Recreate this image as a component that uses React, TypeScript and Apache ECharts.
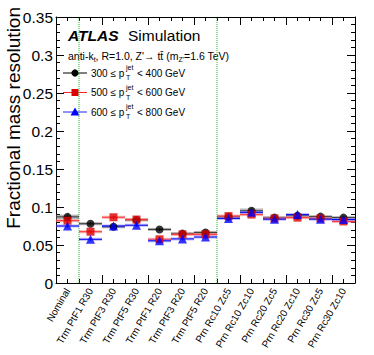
import React, { useEffect, useRef } from "react";
import * as echarts from "echarts";

const categories = [
  "Nominal",
  "Trm PtF1 R30",
  "Trm PtF3 R30",
  "Trm PtF5 R30",
  "Trm PtF1 R20",
  "Trm PtF3 R20",
  "Trm PtF5 R20",
  "Prn Rc10 Zc5",
  "Prn Rc10 Zc10",
  "Prn Rc20 Zc5",
  "Prn Rc20 Zc10",
  "Prn Rc30 Zc5",
  "Prn Rc30 Zc10",
];

const res300to400 = [0.087, 0.078, 0.074, 0.083, 0.0705, 0.065, 0.0665, 0.087, 0.095, 0.086, 0.0886, 0.0873, 0.086];
const res500to600 = [0.082, 0.0675, 0.0865, 0.0835, 0.0575, 0.064, 0.064, 0.088, 0.090, 0.085, 0.086, 0.085, 0.081];
const res600to800 = [0.075, 0.0575, 0.075, 0.076, 0.0555, 0.058, 0.0605, 0.085, 0.093, 0.084, 0.0900, 0.084, 0.0835];

const err300to400 = [0.003, 0.002, 0.002, 0.002, 0.002, 0.002, 0.002, 0.002, 0.003, 0.002, 0.002, 0.002, 0.002];
const err500to600 = [0.002, 0.002, 0.002, 0.002, 0.002, 0.002, 0.002, 0.002, 0.002, 0.002, 0.002, 0.002, 0.002];
const err600to800 = [0.002, 0.002, 0.002, 0.002, 0.002, 0.002, 0.002, 0.002, 0.002, 0.002, 0.002, 0.002, 0.002];

const yTicks = [0, 0.05, 0.1, 0.15, 0.2, 0.25, 0.3, 0.35];
const separators = [1, 7];

const legendRows = [
  { lo: "300", hi: "400", color: "#000000", line: "#000000", symbol: "circle" },
  { lo: "500", hi: "600", color: "#dd0000", line: "#ff2222", symbol: "rect" },
  { lo: "600", hi: "800", color: "#0000ff", line: "#2222ff", symbol: "triangle" },
];

const FONT = "Liberation Sans, Arial, Helvetica, sans-serif";

function bandSeries(values: number[], errs: number[], lineColor: string, bandColor: string) {
  return {
    type: "custom",
    xAxisIndex: 0,
    yAxisIndex: 0,
    data: values.map((v, i) => [i, v, errs[i]]),
    renderItem: (params: any, api: any) => {
      const i = api.value(0);
      const y = api.value(1);
      const e = api.value(2);
      const a = api.coord([i, y + e]);
      const b = api.coord([i + 1, y - e]);
      const l = api.coord([i, y]);
      const r = api.coord([i + 1, y]);
      const c1 = api.coord([i + 0.5, y + e]);
      const c2 = api.coord([i + 0.5, y - e]);
      return {
        type: "group",
        children: [
          {
            type: "rect",
            shape: { x: a[0], y: a[1], width: b[0] - a[0], height: b[1] - a[1] },
            style: { fill: bandColor },
          },
          {
            type: "line",
            shape: { x1: l[0], y1: l[1], x2: r[0], y2: r[1] },
            style: { stroke: lineColor, lineWidth: 1 },
          },
          {
            type: "line",
            shape: { x1: c1[0], y1: c1[1], x2: c2[0], y2: c2[1] },
            style: { stroke: lineColor, lineWidth: 1 },
          },
        ],
      };
    },
    z: 3,
  };
}

function markerSeries(values: number[], symbol: string, color: string, size: number) {
  return {
    type: "scatter",
    xAxisIndex: 0,
    yAxisIndex: 0,
    symbol,
    symbolSize: size,
    itemStyle: { color },
    data: values.map((v, i) => [i + 0.5, v]),
    z: 4,
  };
}

export default function App() {
  const ref = useRef<HTMLDivElement>(null);
  useEffect(() => {
    if (!ref.current) return;
    const chart = echarts.init(ref.current, undefined, { renderer: "svg" });

    const valueAxisCommon = {
      type: "value",
      min: 0,
      max: 13,
      interval: 2,
      axisLine: { show: true, onZero: false, lineStyle: { color: "#000", width: 1 } },
      axisTick: { show: true, inside: true, length: 8, lineStyle: { color: "#000" } },
      minorTick: { show: true, splitNumber: 4, length: 4, lineStyle: { color: "#000" } },
      axisLabel: { show: false },
      splitLine: { show: false },
    };
    const yAxisCommon = {
      type: "value",
      min: 0,
      max: 0.35,
      interval: 0.05,
      axisLine: { show: true, onZero: false, lineStyle: { color: "#000", width: 1 } },
      axisTick: { show: true, inside: true, length: 8, lineStyle: { color: "#000" } },
      minorTick: { show: true, splitNumber: 5, length: 4, lineStyle: { color: "#000" } },
      splitLine: { show: false },
    };

    const legendGraphics: any[] = [];
    legendRows.forEach((row, k) => {
      const cy = 73 + k * 19.5;
      legendGraphics.push({
        type: "line",
        shape: { x1: 63, y1: cy, x2: 87, y2: cy },
        style: { stroke: row.line, lineWidth: 1 },
      });
      if (row.symbol === "circle") {
        legendGraphics.push({ type: "circle", shape: { cx: 75, cy, r: 3.6 }, style: { fill: row.color } });
      } else if (row.symbol === "rect") {
        legendGraphics.push({ type: "rect", shape: { x: 71.5, y: cy - 3.5, width: 7, height: 7 }, style: { fill: row.color } });
      } else {
        legendGraphics.push({
          type: "polygon",
          shape: { points: [[75, cy - 4.5], [79.5, cy + 3.5], [70.5, cy + 3.5]] },
          style: { fill: row.color },
        });
      }
      legendGraphics.push({
        type: "text",
        x: 91,
        y: cy,
        style: { text: row.lo + " \u2264 p", font: `10px ${FONT}`, fill: "#000", verticalAlign: "middle", align: "left" },
      });
      legendGraphics.push({
        type: "text",
        x: 126,
        y: cy - 5.5,
        style: { text: "jet", font: `7px ${FONT}`, fill: "#000", verticalAlign: "middle", align: "left" },
      });
      legendGraphics.push({
        type: "text",
        x: 126,
        y: cy + 4.5,
        style: { text: "T", font: `7px ${FONT}`, fill: "#000", verticalAlign: "middle", align: "left" },
      });
      legendGraphics.push({
        type: "text",
        x: 137,
        y: cy,
        style: { text: "< " + row.hi + " GeV", font: `10px ${FONT}`, fill: "#000", verticalAlign: "middle", align: "left" },
      });
    });

    const option: any = {
      animation: false,
      backgroundColor: "#ffffff",
      grid: { left: 56, right: 19, top: 17, bottom: 72, containLabel: false },
      xAxis: [
        { ...valueAxisCommon, position: "bottom" },
        {
          type: "category",
          data: categories,
          position: "bottom",
          boundaryGap: true,
          axisLine: { show: false },
          axisTick: { show: false },
          splitLine: { show: false },
          axisLabel: {
            show: true,
            interval: 0,
            rotate: 60,
            margin: 6,
            fontSize: 10,
            fontFamily: FONT,
            color: "#000",
          },
        },
        { ...valueAxisCommon, position: "top" },
      ],
      yAxis: [
        {
          ...yAxisCommon,
          position: "left",
          axisLabel: {
            show: true,
            fontSize: 15.5,
            fontFamily: FONT,
            color: "#000",
            margin: 3,
            formatter: (v: number) => {
              const hit = yTicks.find((t) => Math.abs(t - v) < 1e-9);
              return hit === undefined ? "" : String(+hit.toFixed(2));
            },
          },
        },
        { ...yAxisCommon, position: "right", axisLabel: { show: false } },
      ],
      series: [
        {
          type: "custom",
          xAxisIndex: 0,
          yAxisIndex: 0,
          data: separators.map((s) => [s]),
          renderItem: (params: any, api: any) => {
            const s = api.value(0);
            const p0 = api.coord([s, 0]);
            const p1 = api.coord([s, 0.35]);
            return {
              type: "line",
              shape: { x1: p0[0], y1: p0[1], x2: p1[0], y2: p1[1] },
              style: { stroke: "#22bb22", lineWidth: 1, lineDash: [1, 1] },
            };
          },
          z: 2,
        },
        bandSeries(res300to400, err300to400, "#333333", "rgba(120,120,120,0.55)"),
        markerSeries(res300to400, "circle", "#000000", 8),
        bandSeries(res500to600, err500to600, "#ff3333", "rgba(240,120,120,0.55)"),
        markerSeries(res500to600, "rect", "#dd0000", 8),
        bandSeries(res600to800, err600to800, "#0000ee", "rgba(120,120,255,0.5)"),
        markerSeries(res600to800, "triangle", "#0000ff", 9),
      ],
      graphic: [
        {
          type: "text",
          x: 13,
          y: 7,
          rotation: Math.PI / 2,
          style: {
            text: "Fractional mass resolution",
            font: `19px ${FONT}`,
            fill: "#000",
            align: "right",
            verticalAlign: "middle",
          },
        },
        {
          type: "text",
          x: 68,
          y: 35,
          style: { text: "ATLAS", font: `italic bold 15.5px ${FONT}`, fill: "#000", verticalAlign: "middle", align: "left" },
        },
        {
          type: "text",
          x: 128,
          y: 35,
          style: { text: "Simulation", font: `15.5px ${FONT}`, fill: "#000", verticalAlign: "middle", align: "left" },
        },
        {
          type: "text",
          x: 68,
          y: 56,
          style: {
            text: "{a|anti-k}{s|t}{a|, R=1.0, Z'\u2192 tt\u0304 (m}{s|Z'}{a|=1.6 TeV)}",
            fill: "#000",
            verticalAlign: "middle",
            align: "left",
            rich: {
              a: { fontSize: 10.5, fontFamily: FONT, lineHeight: 14, verticalAlign: "middle" },
              s: { fontSize: 7, fontFamily: FONT, lineHeight: 8, verticalAlign: "bottom" },
            },
          },
        },
        ...legendGraphics,
      ],
    };
    chart.setOption(option);
    return () => chart.dispose();
  }, []);
  return (
    <div
      ref={ref}
      style={{ position: "absolute", left: 0, top: 0, width: 374, height: 355, background: "#fff" }}
    />
  );
}
